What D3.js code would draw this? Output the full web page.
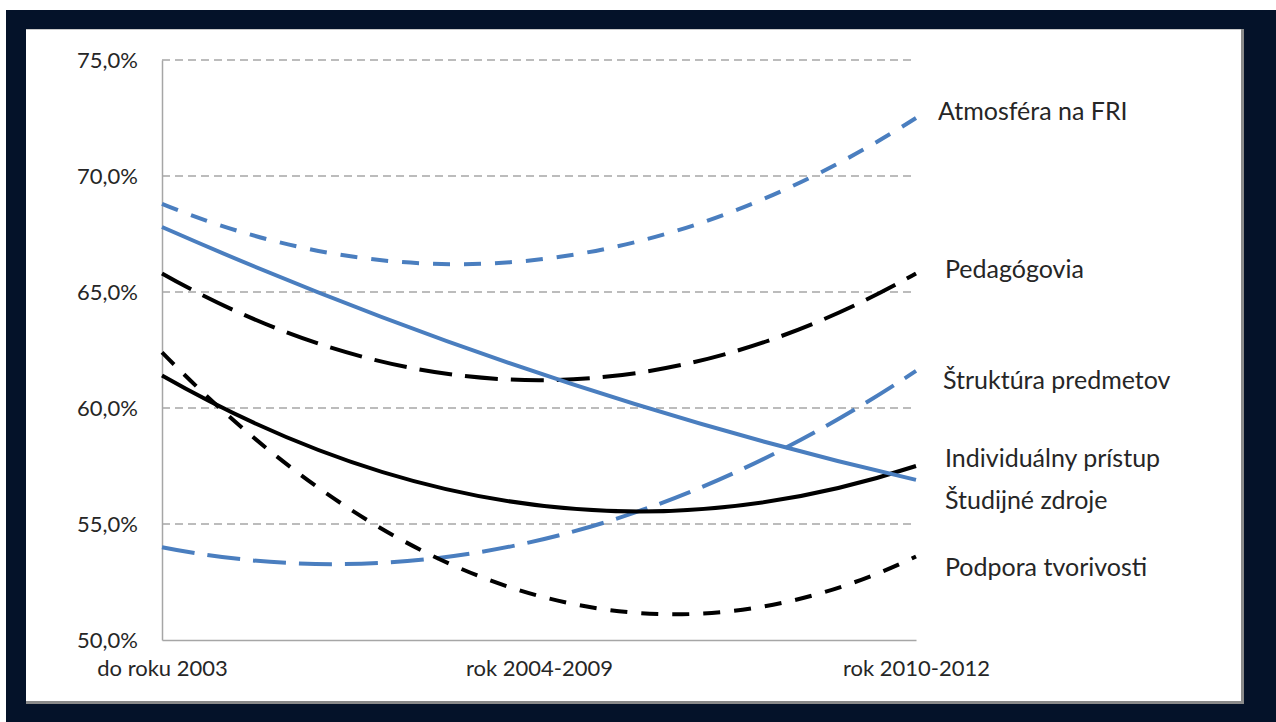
<!DOCTYPE html>
<html>
<head>
<meta charset="utf-8">
<script src="https://cdn.jsdelivr.net/npm/d3@7"></script>
<style>
  html, body { margin: 0; padding: 0; background: #ffffff; }
  svg { display: block; }
  text { font-family: Lato, "Open Sans", sans-serif; fill: #262626; }
</style>
</head>
<body>
<svg id="chart" width="1276" height="722"></svg>
<script>
// ---- data ----
const categories = ["do roku 2003", "rok 2004-2009", "rok 2010-2012"];
const seriesNames = ["Atmosféra na FRI", "Pedagógovia", "Štruktúra predmetov", "Individuálny prístup", "Študijné zdroje", "Podpora tvorivosti"];
const atmosfera   = [68.8, 66.4, 72.5];
const pedagogovia = [65.8, 61.2, 65.8];
const struktura   = [54.0, 54.3, 61.6];
const individualny = [61.4, 55.8, 57.5];
const studijne    = [67.8, 61.5, 56.9];
const podpora     = [62.4, 51.9, 53.6];
const yTicks = [50, 55, 60, 65, 70, 75];

// ---- styles / layout ----
const BLUE = "#4a7ebf", BLACK = "#000000";
const seriesValues = [atmosfera, pedagogovia, struktura, individualny, studijne, podpora];
const seriesColor = [BLUE, BLACK, BLUE, BLACK, BLUE, BLACK];
const seriesDash = ["17,14", "33,13", "33,13", null, null, "17,14"];
const labelY = [110, 268, 379, 457, 499, 566];
const labelX = [938, 945, 943, 945, 945, 945];

const svg = d3.select("#chart");

// frame
svg.append("rect").attr("x", 6).attr("y", 10).attr("width", 1270).attr("height", 712).attr("fill", "#041229");
svg.append("rect").attr("x", 26).attr("y", 29).attr("width", 1218).attr("height", 675).attr("fill", "#8a8a8a");
svg.append("rect").attr("x", 26).attr("y", 29).attr("width", 1215).attr("height", 672).attr("fill", "#ffffff");
svg.append("line").attr("x1", 26).attr("x2", 1241).attr("y1", 29.5).attr("y2", 29.5).attr("stroke", "#c8c8c8").attr("stroke-width", 1);

const x = d3.scalePoint().domain(categories).range([162, 916]);
const y = d3.scaleLinear().domain([50, 75]).range([640, 60]);

const loc = d3.formatLocale({ decimal: ",", thousands: " ", grouping: [3], currency: ["", " €"] });
const fmt = v => loc.format(".1f")(v) + "%";

// gridlines
svg.append("g").selectAll("line").data(yTicks.filter(t => t > 50)).join("line")
  .attr("x1", x(categories[0])).attr("x2", x(categories[categories.length - 1]))
  .attr("y1", d => y(d)).attr("y2", d => y(d))
  .attr("stroke", "#a6a6a6").attr("stroke-width", 1.5).attr("stroke-dasharray", "8,5");

// y axis
const yAxis = d3.axisLeft(y).tickValues(yTicks).tickFormat(fmt).tickSize(0).tickPadding(24);
const gy = svg.append("g").attr("transform", `translate(${x(categories[0])},0)`).call(yAxis);
gy.select(".domain").attr("stroke", "#a6a6a6").attr("stroke-width", 1.5);
gy.selectAll("text").style("font-size", "22px").attr("fill", "#262626").style("font-family", "Lato, sans-serif");

// x axis
const xAxis = d3.axisBottom(x).tickSize(0).tickPadding(20);
const gx = svg.append("g").attr("transform", `translate(0,${y(50)})`).call(xAxis);
gx.select(".domain").attr("stroke", "#a6a6a6").attr("stroke-width", 1.5);
gx.selectAll("text").style("font-size", "22px").attr("fill", "#262626").style("font-family", "Lato, sans-serif");

// quadratic (order-2 trend) curve through three equally spaced points
function curveQuad(context) {
  let pts = [];
  return {
    areaStart() {}, areaEnd() {},
    lineStart() { pts = []; },
    point(px, py) { pts.push([+px, +py]); },
    lineEnd() {
      if (pts.length === 3) {
        const [p0, p1, p2] = pts;
        context.moveTo(p0[0], p0[1]);
        context.quadraticCurveTo(2 * p1[0] - (p0[0] + p2[0]) / 2, 2 * p1[1] - (p0[1] + p2[1]) / 2, p2[0], p2[1]);
      } else {
        pts.forEach((p, i) => i ? context.lineTo(p[0], p[1]) : context.moveTo(p[0], p[1]));
      }
    }
  };
}

const line = d3.line()
  .x((d, i) => x(categories[i]))
  .y(d => y(d))
  .curve(curveQuad);

const gl = svg.append("g");
seriesValues.forEach((vals, i) => {
  gl.append("path")
    .attr("d", line(vals))
    .attr("fill", "none")
    .attr("stroke", seriesColor[i])
    .attr("stroke-width", 4)
    .attr("stroke-dasharray", seriesDash[i])
    .attr("stroke-linecap", "butt");
});

// series labels
svg.append("g").selectAll("text").data(seriesNames).join("text")
  .attr("x", (d, i) => labelX[i])
  .attr("y", (d, i) => labelY[i])
  .attr("dominant-baseline", "central")
  .style("font-size", "25px")
  .text(d => d);
</script>
</body>
</html>
